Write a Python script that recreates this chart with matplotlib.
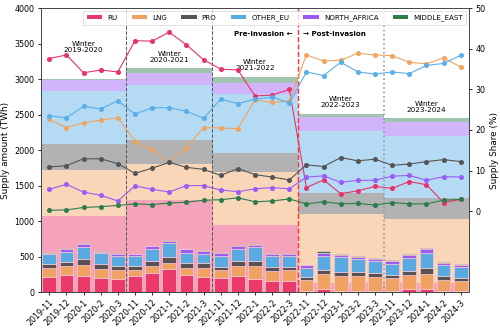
import matplotlib
matplotlib.use("Agg")
import matplotlib.pyplot as plt
import numpy as np

months = ['2019-11', '2019-12', '2020-1', '2020-2', '2020-3',
          '2020-11', '2020-12', '2021-1', '2021-2', '2021-3',
          '2021-11', '2021-12', '2022-1', '2022-2', '2022-3',
          '2022-11', '2022-12', '2023-1', '2023-2', '2023-3',
          '2023-11', '2023-12', '2024-1', '2024-2', '2024-3']
series = ['RU', 'LNG', 'PRO', 'OTHER_EU', 'NORTH_AFRICA', 'MIDDLE_EAST']

# monthly supply bars (TWh)
bar_ru = [211, 243, 234, 201, 187, 229, 276, 328, 243, 220, 197, 232, 187, 154, 164,
          18, 46, 23, 18, 23, 18, 42, 42, 18, 18]
bar_lng = [126, 123, 146, 127, 122, 85, 94, 80, 99, 122, 117, 134, 188, 146, 150,
           150, 212, 202, 207, 192, 179, 197, 220, 155, 136]
bar_pro = [61, 65, 89, 75, 66, 56, 75, 89, 66, 66, 47, 72, 70, 51, 47,
           47, 56, 65, 56, 57, 47, 61, 75, 52, 52]
bar_oeu = [136, 136, 173, 145, 141, 136, 164, 192, 150, 136, 155, 174, 188, 155, 145,
           132, 197, 207, 183, 169, 159, 178, 221, 155, 150]
bar_na = [24, 42, 42, 24, 23, 28, 38, 38, 47, 37, 32, 35, 37, 28, 28,
          33, 47, 33, 33, 28, 38, 47, 51, 32, 28]
bar_me = [9, 10, 10, 9, 9, 10, 9, 14, 9, 14, 19, 13, 14, 14, 14,
          9, 19, 9, 9, 9, 14, 14, 15, 15, 19]

# supply shares (%)
share_ru = [37.6, 38.5, 34.1, 34.8, 34.3, 42.0, 41.9, 44.1, 41.0, 37.3, 35.0, 34.8, 28.4, 28.6, 30.0,
            5.8, 7.7, 4.3, 5.0, 6.1, 5.6, 7.3, 6.5, 2.1, 2.9]
share_lng = [22.6, 20.6, 21.8, 22.4, 23.0, 17.2, 15.2, 12.2, 15.6, 20.6, 20.5, 20.3, 27.4, 26.8, 27.1,
             38.5, 37.0, 37.2, 38.9, 38.5, 38.3, 36.7, 36.3, 37.8, 35.5]
share_pro = [10.9, 11.2, 12.9, 12.9, 11.7, 9.3, 10.6, 12.0, 10.8, 10.3, 8.8, 10.5, 9.0, 8.4, 7.7,
             11.4, 11.0, 13.2, 12.4, 12.8, 11.3, 11.6, 12.2, 12.7, 12.2]
share_oeu = [23.5, 23.0, 25.8, 25.2, 27.2, 23.9, 25.5, 25.5, 24.6, 22.9, 27.6, 26.5, 27.6, 28.1, 26.7,
             34.3, 33.4, 36.7, 34.3, 33.8, 34.3, 33.9, 35.9, 36.4, 38.4]
share_na = [5.4, 6.6, 4.7, 3.9, 2.5, 6.2, 5.4, 4.7, 6.3, 6.3, 5.2, 4.8, 5.5, 5.8, 5.5,
            8.4, 8.7, 7.1, 7.6, 7.6, 8.6, 8.8, 7.6, 8.5, 8.4]
share_me = [0.2, 0.3, 0.9, 1.1, 1.4, 1.8, 1.6, 2.0, 2.2, 2.7, 2.8, 3.3, 2.3, 2.5, 3.0,
            1.8, 2.3, 1.8, 1.9, 1.5, 2.1, 1.8, 1.8, 2.7, 2.9]

# winter background stacks (TWh)
winters = ['2019-2020', '2020-2021', '2021-2022', '2022-2023', '2023-2024']
win_ru = [1073, 1300, 945, 135, 135]
win_lng = [655, 507, 750, 963, 890]
win_pro = [365, 333, 268, 302, 296]
win_oeu = [747, 776, 830, 870, 875]
win_na = [143, 176, 155, 195, 205]
win_me = [20, 63, 80, 45, 50]

colors = ['#e8336a', '#f0a460', '#555555', '#5aaee8', '#9b5cf6', '#2e7d4e']
bar_colors = ['#ea3a6c', '#f0a262', '#5a5252', '#5aaae2', '#9a5cf4', '#2e7d4e']

fig = plt.figure(figsize=(5.0, 3.31), dpi=100)
ax = fig.add_axes([0.0814, 0.117, 0.8572, 0.858])
ax2 = ax.twinx()

x = np.arange(len(months))
wx = np.arange(len(winters)) * 5 + 2

# background winter stacks
bottom = np.zeros(len(winters))
for vals, c in zip([win_ru, win_lng, win_pro, win_oeu, win_na, win_me], colors):
    ax.bar(wx, vals, width=5, bottom=bottom, color=c, alpha=0.45, linewidth=0, zorder=1)
    bottom += np.array(vals)

# monthly bars
bottom = np.zeros(len(months))
for vals, c, name in zip([bar_ru, bar_lng, bar_pro, bar_oeu, bar_na, bar_me], bar_colors, series):
    ax.bar(x, vals, width=0.8, bottom=bottom, color=c, edgecolor='#f7c9d4', linewidth=0.5,
           zorder=2, label=name)
    bottom += np.array(vals)

# vertical separators
for xv in [4.5, 9.5]:
    ax.axvline(xv, color='#555555', linestyle='--', linewidth=0.7, zorder=3)
ax.axvline(14.5, color='#ff3333', linestyle='--', linewidth=1.0, zorder=3)
ax.axvline(19.5, color='#999999', linestyle=':', linewidth=1.2, zorder=3)

# share lines
for vals, c in zip([share_ru, share_lng, share_pro, share_oeu, share_na, share_me], colors):
    ax2.plot(x, vals, color=c, linewidth=0.8, marker='o', markersize=2.6, zorder=4)

# winter labels
label_y = [3452, 3312, 3199, 2678, 2612]
for cx, w, ly in zip(wx, winters, label_y):
    ax.text(cx, ly, 'Winter\n' + w, ha='center', va='center', fontsize=5.2, zorder=5,
            linespacing=1.1)

ax.text(14.2, 3635, 'Pre-invasion \u2190', ha='right', va='center', fontsize=5.1,
        fontweight='bold', zorder=5)
ax.text(14.8, 3635, '\u2192 Post-invasion', ha='left', va='center', fontsize=5.1,
        fontweight='bold', zorder=5)

ax.set_xlim(-0.5, 24.5)
ax.set_ylim(0, 4000)
ax2.set_ylim(-20, 50)
ax2.set_yticks([0, 10, 20, 30, 40, 50])

ax.set_xticks(x)
ax.set_xticklabels(months, rotation=45, ha='right', rotation_mode='anchor', fontsize=5.8)
ax.tick_params(axis='y', labelsize=5.8, length=2.5, width=0.6, pad=2)
ax.tick_params(axis='x', length=2.5, width=0.6, pad=1.5)
ax2.tick_params(axis='y', labelsize=5.8, length=2.5, width=0.6, pad=2)
ax.set_ylabel('Supply amount (TWh)', fontsize=6.4, labelpad=3)
ax2.set_ylabel('Supply Share (%)', fontsize=6.4, labelpad=3)

for a in (ax, ax2):
    for s in a.spines.values():
        s.set_linewidth(0.6)
        s.set_color('#444444')

ax.set_zorder(1)
ax2.set_zorder(2)
ax2.patch.set_visible(False)

handles, labels = ax.get_legend_handles_labels()
leg = ax2.legend(handles, labels, loc='upper right', ncol=6, fontsize=5.1, frameon=True,
                 handlelength=2.2, handleheight=0.5, columnspacing=2.0, borderpad=0.5,
                 handletextpad=0.7, borderaxespad=0.4)
leg.get_frame().set_linewidth(0.5)
for h in leg.legend_handles:
    h.set_edgecolor('none')

fig.savefig('out.png', dpi=100)
